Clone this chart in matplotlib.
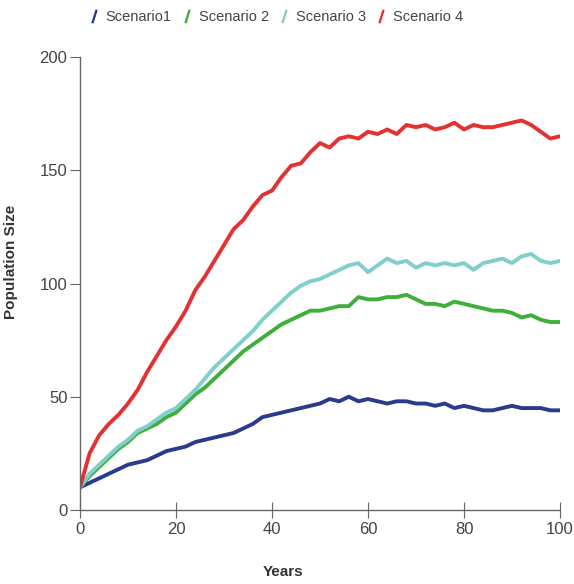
import numpy as np
import matplotlib.pyplot as plt
from matplotlib.lines import Line2D

plt.rcParams['font.family'] = ['Liberation Sans', 'DejaVu Sans']

years = np.arange(0, 101, 2)

scenario1 = [10, 12, 14, 16, 18, 20, 21, 22, 24, 26, 27, 28, 30, 31, 32, 33, 34,
             36, 38, 41, 42, 43, 44, 45, 46, 47, 49, 48, 50, 48, 49, 48, 47, 48,
             48, 47, 47, 46, 47, 45, 46, 45, 44, 44, 45, 46, 45, 45, 45, 44, 44]
scenario2 = [10, 15, 19, 23, 27, 30, 34, 36, 38, 41, 43, 47, 51, 54, 58, 62, 66,
             70, 73, 76, 79, 82, 84, 86, 88, 88, 89, 90, 90, 94, 93, 93, 94, 94,
             95, 93, 91, 91, 90, 92, 91, 90, 89, 88, 88, 87, 85, 86, 84, 83, 83]
scenario3 = [10, 16, 20, 24, 28, 31, 35, 37, 40, 43, 45, 49, 53, 58, 63, 67, 71,
             75, 79, 84, 88, 92, 96, 99, 101, 102, 104, 106, 108, 109, 105, 108,
             111, 109, 110, 107, 109, 108, 109, 108, 109, 106, 109, 110, 111, 109,
             112, 113, 110, 109, 110]
scenario4 = [10, 25, 33, 38, 42, 47, 53, 61, 68, 75, 81, 88, 97, 103, 110, 117,
             124, 128, 134, 139, 141, 147, 152, 153, 158, 162, 160, 164, 165, 164,
             167, 166, 168, 166, 170, 169, 170, 168, 169, 171, 168, 170, 169, 169,
             170, 171, 172, 170, 167, 164, 165]

names = ['Scenario1', 'Scenario 2', 'Scenario 3', 'Scenario 4']
colors = ['#2b3a8c', '#3fae3a', '#80cfcc', '#e23232']
series = [scenario1, scenario2, scenario3, scenario4]

fig = plt.figure(figsize=(5.74, 5.84), dpi=100)
ax = fig.add_axes([80/574, 1 - 510/584, 480/574, 453/584])

for vals, c in zip(series, colors):
    ax.plot(years, vals, color=c, lw=2.8, solid_joinstyle='round')

ax.set_xlim(0, 100)
ax.set_ylim(0, 200)
ax.set_xticks([0, 20, 40, 60, 80, 100])
ax.set_yticks([0, 50, 100, 150, 200])
for s in ['top', 'right']:
    ax.spines[s].set_visible(False)
for s in ['left', 'bottom']:
    ax.spines[s].set_color('#666666')
    ax.spines[s].set_linewidth(1.0)
ax.tick_params(axis='y', direction='out', length=7, color='#666666',
               labelsize=12, labelcolor='#444444', pad=2)
ax.tick_params(axis='x', direction='inout', length=12, color='#666666',
               labelsize=12, labelcolor='#444444', pad=3)

ax.set_ylabel('Population Size', fontsize=11, fontweight='bold', color='#333333')
ax.yaxis.set_label_coords(-0.129, 0.547)
ax.set_xlabel('Years', fontsize=11, fontweight='bold', color='#333333')
ax.xaxis.set_label_coords(0.423, -0.122)

handles = [Line2D([], [], linestyle='none', marker='$/$', markersize=9,
                  color=c, markeredgewidth=0.8) for c in colors]
fig.legend(handles, names, loc='upper left', bbox_to_anchor=(75/574, 1.005),
           ncol=4, frameon=False, fontsize=10.5, handlelength=0.8,
           handletextpad=0.4, columnspacing=0.65, labelcolor='#444444')

fig.savefig('out.png', dpi=100)
